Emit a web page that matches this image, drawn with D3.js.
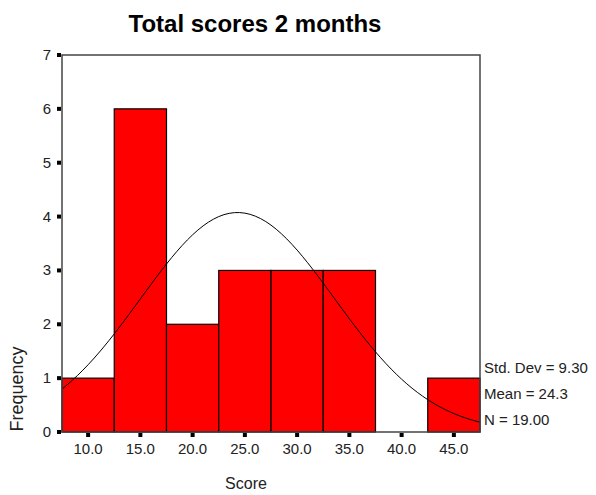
<!DOCTYPE html>
<html lang="en">
<head>
  <meta charset="UTF-8">
  <title>Total scores 2 months</title>
  <script src="https://d3js.org/d3.v7.min.js"></script>
  <style>
    body { margin: 0; background: #fff; font-family: Arial, "Liberation Sans", sans-serif; }
    text { fill: #222; }
  </style>
</head>
<body>
<div id="chart"></div>
<script>
// histogram data
const binMids = [10, 15, 20, 25, 30, 35, 40, 45];
const counts = [1, 6, 2, 3, 3, 3, 0, 1];
const binWidth = 5;
const yTicks = [0, 1, 2, 3, 4, 5, 6, 7];
const xTickLabels = ["10.0", "15.0", "20.0", "25.0", "30.0", "35.0", "40.0", "45.0"];
const statLabels = ["Std. Dev = 9.30", "Mean = 24.3", "N = 19.00"];
const stdDev = 9.30, mean = 24.3, n = 19;

const width = 596, height = 495;
const margin = { top: 55, right: 116, bottom: 63, left: 62 };

const svg = d3.select("#chart").append("svg")
  .attr("width", width)
  .attr("height", height);

const x = d3.scaleLinear().domain([7.5, 47.5]).range([margin.left, width - margin.right]);
const y = d3.scaleLinear().domain([0, 7]).range([height - margin.bottom, margin.top]);

// title
svg.append("text")
  .attr("x", 255).attr("y", 32)
  .attr("text-anchor", "middle")
  .style("font-size", "24px").style("font-weight", "bold")
  .style("fill", "#000")
  .text("Total scores 2 months");

// bars
svg.selectAll("rect.bar")
  .data(binMids.map((m, i) => ({ m, c: counts[i] })).filter(d => d.c > 0))
  .enter().append("rect")
  .attr("class", "bar")
  .attr("x", d => x(d.m - binWidth / 2))
  .attr("y", d => y(d.c))
  .attr("width", d => x(d.m + binWidth / 2) - x(d.m - binWidth / 2))
  .attr("height", d => y(0) - y(d.c))
  .attr("fill", "#ff0000")
  .attr("stroke", "#000")
  .attr("stroke-width", 1.2);

// fitted normal curve from the stats
const curvePts = d3.range(7.5, 47.51, 0.5).map(v => {
  const z = (v - mean) / stdDev;
  return [v, n * binWidth / (stdDev * Math.sqrt(2 * Math.PI)) * Math.exp(-0.5 * z * z)];
});
svg.append("path")
  .datum(curvePts)
  .attr("fill", "none")
  .attr("stroke", "#000")
  .attr("stroke-width", 1)
  .attr("d", d3.line().x(d => x(d[0])).y(d => y(d[1])));

// frame
svg.append("rect")
  .attr("x", x(7.5)).attr("y", y(7))
  .attr("width", x(47.5) - x(7.5))
  .attr("height", y(0) - y(7))
  .attr("fill", "none")
  .attr("stroke", "#444")
  .attr("stroke-width", 1.5);

// y axis ticks and labels
const yAxis = svg.append("g");
yAxis.selectAll("rect")
  .data(yTicks).enter().append("rect")
  .attr("x", x(7.5) - 5).attr("y", d => y(d) - 2)
  .attr("width", 4).attr("height", 4)
  .attr("fill", "#000");
yAxis.selectAll("text")
  .data(yTicks).enter().append("text")
  .attr("x", x(7.5) - 11).attr("y", d => y(d) + 5)
  .attr("text-anchor", "end")
  .style("font-size", "15px")
  .text(d => d);

// x axis ticks and labels
const xAxis = svg.append("g");
xAxis.selectAll("rect")
  .data(binMids).enter().append("rect")
  .attr("x", d => x(d) - 2).attr("y", y(0) + 1)
  .attr("width", 4).attr("height", 4)
  .attr("fill", "#000");
xAxis.selectAll("text")
  .data(binMids).enter().append("text")
  .attr("x", d => x(d)).attr("y", y(0) + 22)
  .attr("text-anchor", "middle")
  .style("font-size", "15px")
  .text((d, i) => xTickLabels[i]);

// axis titles
svg.append("text")
  .attr("x", 246).attr("y", 489)
  .attr("text-anchor", "middle")
  .style("font-size", "16px")
  .text("Score");
svg.append("text")
  .attr("transform", "translate(23,389) rotate(-90)")
  .attr("text-anchor", "middle")
  .style("font-size", "18px")
  .text("Frequency");

// stats box
svg.selectAll("text.stat")
  .data(statLabels).enter().append("text")
  .attr("class", "stat")
  .attr("x", x(47.5) + 4)
  .attr("y", (d, i) => 373 + i * 26)
  .style("font-size", "15px")
  .text(d => d);
</script>
</body>
</html>
